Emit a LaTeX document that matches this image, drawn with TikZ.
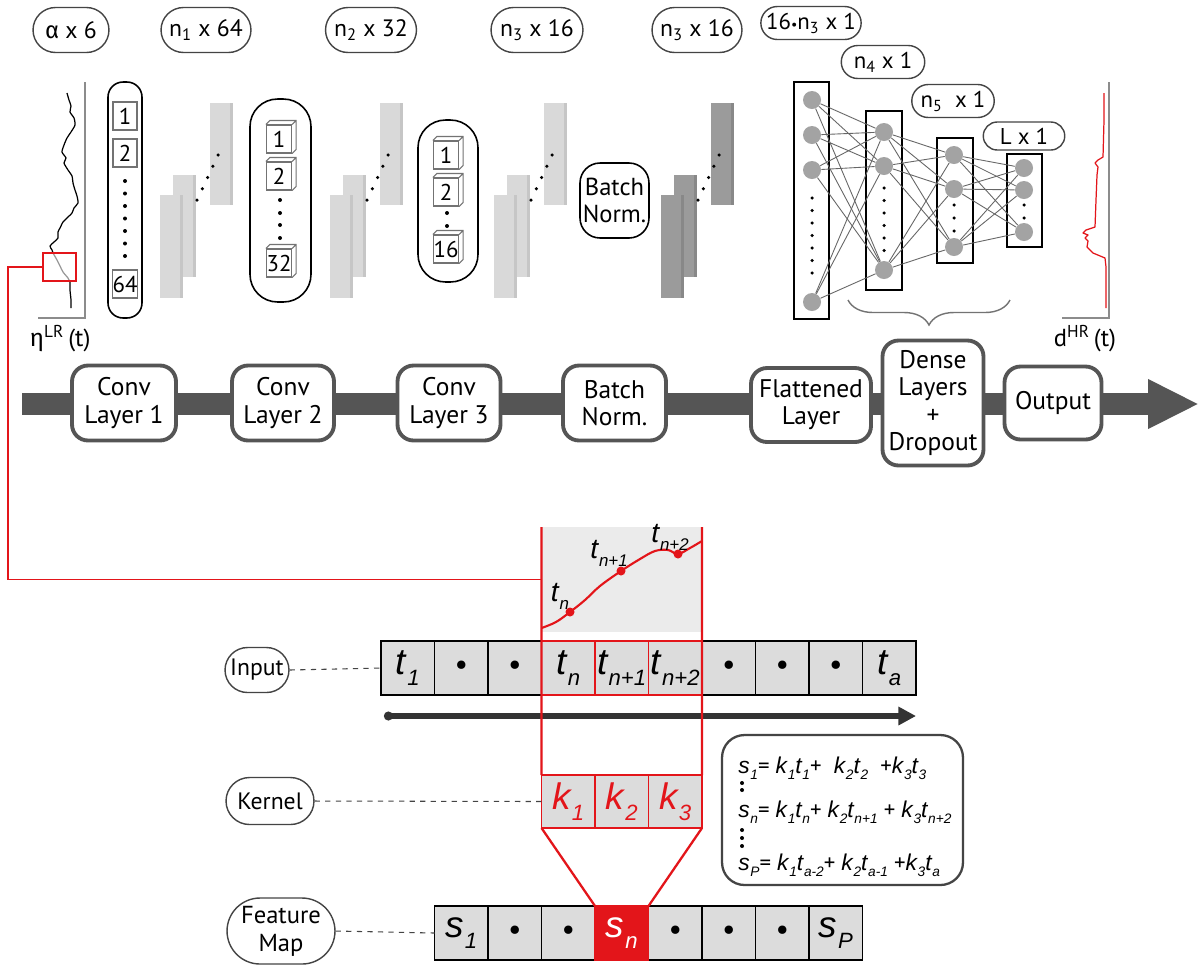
\documentclass[tikz,border=0pt]{standalone}
\usepackage{fontspec}
\setmainfont{PT Sans}
\newfontfamily\greekfont{Fira Sans}
\newfontfamily\varfont{Liberation Sans}
\usetikzlibrary{positioning,calc,shapes.misc,arrows.meta,decorations.pathreplacing}

\definecolor{bandgray}{HTML}{555555}
\definecolor{mapgray}{HTML}{D9D9D9}
\definecolor{mapedge}{HTML}{C6C6C6}
\definecolor{darkmap}{HTML}{9B9B9B}
\definecolor{darkedge}{HTML}{888888}
\definecolor{cellgray}{HTML}{DCDCDC}
\definecolor{winfill}{HTML}{EBEBEB}
\definecolor{netred}{HTML}{E3151A}
\definecolor{neurongray}{HTML}{A3A3A3}
\definecolor{linegray}{HTML}{444444}

\newcommand\ivar[2]{{\varfont\itshape #1\kern0.03em\raisebox{-0.55ex}{\scalebox{0.6}{#2}}}}
\newcommand\dotc{{\fontsize{17}{17}\selectfont\textbullet}}
% numbered box with a 3d top and side
\newcommand\cubebox[3]{%
  \node[numbox] (#1) at (#2) {#3};
  \draw[cubeline] (#1.north west) -- ++(4,-4) -- ($(#1.north east)+(4,-4)$) -- ($(#1.south east)+(4,-4)$) -- (#1.south east)
    (#1.north east) -- ++(4,-4);
}

\begin{document}
\begin{tikzpicture}[x=0.02cm, y=-0.02cm,
    toplbl/.style={rounded rectangle, draw=linegray, line width=0.8pt, minimum height=0.9cm, inner sep=2pt, font=\fontsize{13.5}{15}\selectfont},
    smalllbl/.style={toplbl, minimum height=0.66cm, inner sep=1pt, font=\fontsize{13}{14}\selectfont},
    colbox/.style={draw=black, line width=0.9pt, rounded corners=#1},
    numbox/.style={draw=black!55, fill=white, line width=0.6pt, minimum width=0.5cm, minimum height=0.56cm, inner sep=0pt, font=\fontsize{13}{13}\selectfont},
    cubeline/.style={draw=black!55, line width=0.6pt},
    dlayer/.style={draw=black, line width=0.9pt, minimum width=0.71cm},
    neuron/.style={circle, fill=neurongray, minimum size=0.36cm, inner sep=0pt},
    wire/.style={draw=black!60, line width=0.5pt},
    stage/.style={draw=bandgray, line width=2.2pt, fill=white, rounded corners=0.32cm, align=center, minimum height=1.5cm, inner sep=2pt, font=\fontsize{14.5}{15.5}\selectfont},
    cell/.style={draw=black, fill=cellgray, line width=1pt, minimum width=1.07cm, minimum height=1.08cm, inner sep=0pt, outer sep=0pt, font=\fontsize{21}{21}\selectfont},
    redline/.style={draw=netred, line width=1.3pt},
    ]
\path[use as bounding box, fill=white] (0,0) rectangle (1199,965);

% top labels
\node[toplbl, minimum width=1.66cm] (lblin) at (71,30) {{\greekfont α} x 6};
\node[toplbl, minimum width=1.94cm] (lblc1) at (206,30) {n\textsubscript{1} x 64};
\node[toplbl, minimum width=1.96cm] (lblc2) at (371,30) {n\textsubscript{2} x 32};
\node[toplbl, minimum width=1.98cm] (lblc3) at (537,30) {n\textsubscript{3} x 16};
\node[toplbl, minimum width=1.94cm] (lblbn) at (697,30) {n\textsubscript{3} x 16};
\node[smalllbl, minimum width=1.74cm] (lblfl) at (811,23) {16{\fontsize{8}{8}\selectfont\textbullet}n\textsubscript{3} x 1};
\node[smalllbl, minimum width=1.74cm] (lbld1) at (883,62) {n\textsubscript{4} x 1};
\node[smalllbl, minimum width=1.72cm] (lbld2) at (953,101) {n\textsubscript{5}\ \ x 1};
\node[smalllbl, minimum width=1.7cm, minimum height=0.56cm] (lblout) at (1024,136) {L x 1};

% input signal
\draw[black!45, line width=0.6pt] (85,82) -- (85,318) -- (38,318);
\draw[line width=0.7pt, line join=round] plot[smooth, tension=0.4] coordinates {(67,93) (69,100) (71,106) (70,112) (74,118) (75,125) (71,132) (67,138) (64,145) (62,152) (66,158) (64,163) (68,170) (72,176) (73,183) (75,190) (77,196) (78,203) (74,208) (72,213) (67,218) (63,222) (60,228) (58,232) (58,238) (54,242) (50,246) (52,250) (53,253)};
\draw[black!40, line width=0.7pt] plot[smooth, tension=0.4] coordinates {(53,253) (57,260) (60,266) (63,272) (68,278) (70,282)};
\draw[line width=0.7pt] plot[smooth, tension=0.4] coordinates {(70,282) (70,290) (71,300) (71,308)};
\node[draw=netred, line width=0.8pt, minimum width=0.66cm, minimum height=0.56cm, inner sep=0pt, outer sep=0pt] (zoombox) at (59.5,267) {};
\node[font=\fontsize{14}{15}\selectfont] (etalbl) at (60,339) {{\greekfont η}\textsuperscript{LR}\,(t)};

% conv columns
\node[colbox=0.3cm, minimum width=0.68cm, minimum height=4.72cm] (col1) at (125,200) {};
\node[numbox, minimum width=0.48cm] (c1a) at (125,116) {1};
\node[numbox, minimum width=0.48cm] (c1b) at (125,153) {2};
\node[numbox, minimum width=0.48cm] (c1c) at (125,284) {64};
\foreach \y in {181,193.5,...,257} \fill (125,\y) circle (0.04cm);

\node[colbox=0.55cm, minimum width=1.22cm, minimum height=4.06cm] (col2) at (280.5,200.5) {};
\cubebox{c2a}{279,139}{1}
\cubebox{c2b}{279,176}{2}
\cubebox{c2c}{279,263}{32}
\foreach \y in {200,213,225,238} \fill (280,\y) circle (0.04cm);

\node[colbox=0.55cm, minimum width=1.2cm, minimum height=3.24cm] (col3) at (448,201) {};
\cubebox{c3a}{446,155}{1}
\cubebox{c3b}{446,192}{2}
\cubebox{c3c}{446,249}{16}
\foreach \y in {213,226} \fill (447,\y) circle (0.04cm);

% feature map stacks
\foreach \x/\c/\e in {160/mapgray/mapedge, 330/mapgray/mapedge, 494/mapgray/mapedge, 661/darkmap/darkedge}{
  \fill[\c] (\x+50,103) rectangle ++(23,102);
  \fill[\e] (\x+70,103) rectangle ++(3,102);
  \fill[\c] (\x+13,175) rectangle ++(23,102);
  \fill[\e] (\x+33,175) rectangle ++(3,102);
  \fill[\c] (\x,195) rectangle ++(23,103);
  \fill[\e] (\x+20,195) rectangle ++(3,103);
  \foreach \k in {0,...,4} \fill (\x+37+5.3*\k,200-11.25*\k) circle (0.035cm);
}

\node[draw, line width=0.9pt, rounded corners=0.4cm, minimum width=1.38cm, minimum height=1.5cm, align=center, inner sep=1pt, font=\fontsize{14}{15}\selectfont] (bntop) at (614.5,200.5) {Batch\\Norm.};

% dense network
\node[dlayer, minimum height=4.74cm] (flatlay) at (811.5,200.5) {};
\node[dlayer, minimum height=3.58cm] (dense1) at (884,200.5) {};
\node[dlayer, minimum height=2.5cm] (dense2) at (955,200.5) {};
\node[dlayer, minimum height=1.86cm] (outlay) at (1024.5,200.5) {};
\foreach \n/\y in {F1/100,F2/135,F3/170,F4/302} \node[neuron] (\n) at (812,\y) {};
\foreach \n/\y in {D1/132,D2/166,D3/270} \node[neuron] (\n) at (884,\y) {};
\foreach \n/\y in {E1/155,E2/189,E3/247} \node[neuron] (\n) at (954,\y) {};
\foreach \n/\y in {O1/168,O2/190,O3/232} \node[neuron] (\n) at (1024,\y) {};
\foreach \y in {198,210.5,...,274} \fill (812,\y) circle (0.035cm);
\foreach \y in {188,200.5,...,251} \fill (884,\y) circle (0.035cm);
\foreach \y in {205,218,231} \fill (954,\y) circle (0.035cm);
\foreach \y in {205,218} \fill (1024,\y) circle (0.035cm);
\foreach \a in {F1,F2,F3,F4} \foreach \b in {D1,D2,D3} \draw[wire] (\a) -- (\b);
\foreach \a in {D1,D2,D3} \foreach \b in {E1,E2,E3} \draw[wire] (\a) -- (\b);
\foreach \a in {E1,E2,E3} \foreach \b in {O1,O2,O3} \draw[wire] (\a) -- (\b);
\draw[decorate, decoration={brace, amplitude=0.5cm}, black!55, line width=0.8pt] (1010,300) -- (848,300);

% output signal
\draw[black!45, line width=0.6pt] (1109,82) -- (1109,318) -- (1062,318);
\draw[netred, line width=0.7pt, line join=round] plot coordinates {(1104,93) (1104,120) (1103,157) (1098,160) (1095,163) (1098,167) (1097,175) (1096,200) (1095,227) (1086,230) (1083,233) (1088,235) (1085,238) (1088,241) (1087,247) (1093,253) (1105,258) (1106,267) (1106,308)};
\node[font=\fontsize{14}{15}\selectfont] (dlbl) at (1085,339) {d\textsuperscript{HR}\,(t)};

% main band
\coordinate (bandstart) at (22,404);
\coordinate (bandend) at (1199,404);
\draw[bandgray, line width=0.44cm, -{Triangle[length=1.02cm, width=0.92cm]}] (bandstart) -- (bandend);
\node[stage, minimum width=2.08cm] (conv1) at (124,403) {Conv\\Layer 1};
\node[stage, minimum width=2.04cm] (conv2) at (283,403) {Conv\\Layer 2};
\node[stage, minimum width=2.06cm] (conv3) at (449,403) {Conv\\Layer 3};
\node[stage, minimum width=2.06cm] (bnorm) at (614.5,403) {Batch\\Norm.};
\node[stage, minimum width=2.4cm, minimum height=1.48cm] (flat) at (811,405) {Flattened\\Layer};
\node[stage, minimum width=2.02cm, minimum height=2.5cm] (dense) at (933,403) {Dense\\Layers\\+\\Dropout};
\node[stage, minimum width=1.94cm, minimum height=1.46cm] (outbox) at (1053,403) {Output};

% convolution detail
\node[fill=winfill, minimum width=3.21cm, minimum height=2.1cm, inner sep=0pt, outer sep=0pt] (win) at (621.75,579.5) {};
\draw[netred, line width=0.7pt] (zoombox.west) -- (8,267) |- (win.west);
\draw[netred, line width=1.2pt] plot[smooth, tension=0.6] coordinates {(541.5,628) (556,622) (570,612) (585,600) (600,586) (621,571) (640,559) (655,551) (668,550) (678,554) (690,548) (702,541)};
\foreach \n/\x/\y in {pt1/570/612, pt2/621/571, pt3/678/554} \fill[netred] (\x,\y) circle (0.09cm) coordinate (\n);
\node[font=\fontsize{16}{16}\selectfont] (lbl1) at (560,596) {\ivar{t}{n}};
\node[font=\fontsize{16}{16}\selectfont] (lbl2) at (609,553) {\ivar{t}{n+1}};
\node[font=\fontsize{16}{16}\selectfont] (lbl3) at (670,537) {\ivar{t}{n+2}};

\foreach \t [count=\i] in {{\ivar{t}{1}}, \dotc, \dotc, {\ivar{t}{n}}, {\ivar{t}{n+1}}, {\ivar{t}{n+2}}, \dotc, \dotc, \dotc, {\ivar{t}{a}}}
  \node[cell] (in\i) at (354.25+53.5*\i,668) {\t};
\foreach \i in {4,5,6} \draw[netred, line width=1pt] (in\i.north west) rectangle (in\i.south east);

\coordinate (tstart) at (384,716);
\coordinate (tend) at (916,716);
\draw[black!80, line width=3pt, {Circle[length=5pt]}-{Triangle[length=10pt, width=10pt]}] (tstart) -- (tend);

\foreach \i in {1,2,3} \node[cell, draw=netred, text=netred, minimum height=1.06cm] (k\i) at (514.75+53.5*\i,801.5) {\ivar{k}{\i}};
\draw[redline] (win.north west) -- (k1.north west);
\draw[redline] (win.north east) -- (k3.north east);

\foreach \i/\t in {1/{\ivar{s}{1}}, 2/\dotc, 3/\dotc, 5/\dotc, 6/\dotc, 7/\dotc, 8/{\ivar{s}{P}}}
  \node[cell] (fm\i) at (407.75+53.5*\i,933) {\t};
\node[cell, fill=netred, draw=netred, text=white] (fm4) at (621.75,933) {\ivar{s}{n}};
\draw[redline] (k1.south west) -- (fm4.north west);
\draw[redline] (k3.south east) -- (fm4.north east);

% side labels
\node[toplbl, minimum width=1.42cm] (inputlbl) at (257,670) {Input};
\node[toplbl, minimum width=1.9cm, minimum height=0.94cm] (kernlbl) at (270,801) {Kernel};
\node[toplbl, minimum width=2.3cm, minimum height=1.32cm, align=center, font=\fontsize{14}{16}\selectfont] (fmlbl) at (281,931) {Feature\\Map};
\draw[dashed, linegray, line width=0.6pt] (inputlbl.east) -- (in1.west);
\draw[dashed, linegray, line width=0.6pt] (kernlbl.east) -- (k1.west);
\draw[dashed, linegray, line width=0.6pt] (fmlbl.east) -- (fm1.west);

% equations
\node[draw=linegray, line width=1.3pt, rounded corners=0.45cm, minimum width=4.82cm, minimum height=3cm] (eqbox) at (842.5,810) {};
\begin{scope}[every node/.style={anchor=base west, inner sep=0pt, font=\fontsize{13}{15}\selectfont}]
\node (eq1) at (738,773) {\ivar{s}{1}= \ivar{k}{1}\ivar{t}{1}+\ \ \ivar{k}{2}\ivar{t}{2}\ \ +\ivar{k}{3}\ivar{t}{3}};
\node (eq2) at (738,817) {\ivar{s}{n}= \ivar{k}{1}\ivar{t}{n}+ \ivar{k}{2}\ivar{t}{n+1} + \ivar{k}{3}\ivar{t}{n+2}};
\node (eq3) at (738,870) {\ivar{s}{P}= \ivar{k}{1}\ivar{t}{a-2}+ \ivar{k}{2}\ivar{t}{a-1}\ +\ivar{k}{3}\ivar{t}{a}};
\end{scope}
\foreach \y in {783,790,830,838,846} \fill (742,\y) circle (0.04cm);
\end{tikzpicture}
\end{document}
